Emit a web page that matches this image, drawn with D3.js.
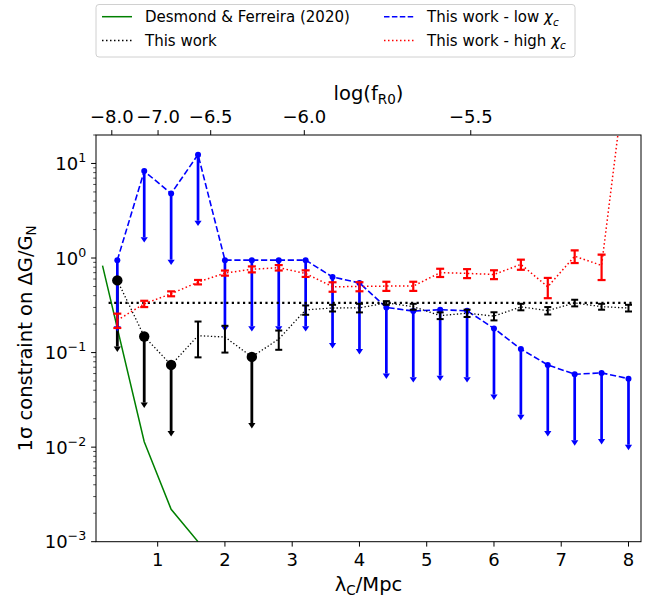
<!DOCTYPE html>
<html><head><meta charset="utf-8">
<script src="https://cdn.jsdelivr.net/npm/d3@7"></script>
<style>body{margin:0;background:#fff}svg{display:block}text{font-family:"DejaVu Sans",sans-serif}</style>
</head><body><svg id="c" width="651" height="604"></svg>
<script>
// ---------------- data ----------------
const lambdaC = [0.4,0.8,1.2,1.6,2.0,2.4,2.8,3.2,3.6,4.0,4.4,4.8,5.2,5.6,6.0,6.4,6.8,7.2,7.6,8.0];
// This work - low chi_c (upper limits)
const lowChi       = [0.95,8.3,4.8,12.4,0.95,0.95,0.95,0.95,0.63,0.545,0.30,0.275,0.284,0.277,0.18,0.109,0.074,0.059,0.061,0.053];
const lowChiLimEnd = [0.19,1.66,0.96,2.48,0.19,0.19,0.19,0.19,0.126,0.109,0.060,0.055,0.057,0.055,0.036,0.022,0.0148,0.0118,0.0122,0.0106];
// This work (combined): limits where thisWorkErr is null
const thisWork       = [0.58,0.148,0.074,0.151,0.146,0.09,0.139,0.283,0.296,0.297,0.335,0.306,0.246,0.261,0.243,0.304,0.278,0.335,0.306,0.296];
const thisWorkErr    = [null,null,null,0.062,0.046,null,0.032,0.032,0.024,0.031,0.015,0.022,0.02,0.023,0.024,0.024,0.025,0.027,0.022,0.024];
const thisWorkLimEnd = [0.116,0.0296,0.0148,null,null,0.018,null,null,null,null,null,null,null,null,null,null,null,null,null,null];
// This work - high chi_c
const highChi    = [0.22,0.328,0.419,0.556,0.694,0.76,0.79,0.686,0.497,0.5,0.505,0.505,0.70,0.688,0.67,0.856,0.496,1.045,0.835,160];
const highChiErr = [0.038,0.025,0.025,0.03,0.043,0.055,0.052,0.055,0.057,0.055,0.056,0.056,0.07,0.075,0.072,0.105,0.12,0.16,0.25,20];
// Desmond & Ferreira (2020)
const dfLambda = [0.18,0.8,1.2,1.6];
const dfValue  = [0.83,0.0114,0.0022,0.001];
// horizontal "This work" level
const levelValue = 0.335;
const levelRange = [0.27,8.05];
// ticks
const xTicks = [1,2,3,4,5,6,7,8];
const yExps = [-3,-2,-1,0,1];
const topTicks = [-8.0,-7.0,-6.5,-6.0,-5.5];
const lambdaFromLogF = f => 31.8*Math.sqrt(Math.pow(10,f+4));

// ---------------- layout ----------------
const L=96,R=641,T=135,B=541.7;
const svg=d3.select("#c");
const x=d3.scaleLinear().domain([0.083,8.186]).range([L,R]);
const y=d3.scaleLog().domain([1e-3,20]).range([B,T]);
const FS=18;

svg.append("defs").append("clipPath").attr("id","clip").append("rect")
  .attr("x",L).attr("y",T).attr("width",R-L).attr("height",B-T);
const g=svg.append("g").attr("clip-path","url(#clip)");

const line=d3.line().x(d=>x(d[0])).y(d=>y(d[1]));

// green
g.append("path").attr("d",line(dfLambda.map((l,i)=>[l,dfValue[i]])))
 .attr("fill","none").attr("stroke","#008000").attr("stroke-width",1.5);

function arrow(sel,xv,v,end,color,lw){
  sel.append("line").attr("x1",x(xv)).attr("x2",x(xv)).attr("y1",y(v)).attr("y2",y(end))
    .attr("stroke",color).attr("stroke-width",lw);
  const xb=x(xv), yb=y(end);
  sel.append("path").attr("d",`M${xb-3.6},${yb}L${xb+3.6},${yb}L${xb},${yb+5.4}Z`).attr("fill",color);
}
function ebar(sel,xv,v,e,color,lw,cw){
  const xc=x(xv), y1=y(v+e), y2=y(Math.max(v-e,1e-6));
  sel.append("line").attr("x1",xc).attr("x2",xc).attr("y1",y1).attr("y2",y2).attr("stroke",color).attr("stroke-width",lw);
  [y1,y2].forEach(yy=>sel.append("line").attr("x1",xc-cw/2).attr("x2",xc+cw/2).attr("y1",yy).attr("y2",yy)
    .attr("stroke",color).attr("stroke-width",lw));
}

// black limit arrows (under blue)
lambdaC.forEach((l,i)=>{ if(thisWorkErr[i]===null) arrow(g,l,thisWork[i],thisWorkLimEnd[i],"#000",2.8); });

// blue
g.append("path").attr("d",line(lambdaC.map((l,i)=>[l,lowChi[i]])))
 .attr("fill","none").attr("stroke","#0000ff").attr("stroke-width",1.6).attr("stroke-dasharray","6.2,2.7");
lambdaC.forEach((l,i)=>arrow(g,l,lowChi[i],lowChiLimEnd[i],"#0000ff",2.7));
g.selectAll(".bd").data(lambdaC).enter().append("circle")
 .attr("cx",d=>x(d)).attr("cy",(d,i)=>y(lowChi[i])).attr("r",3).attr("fill","#0000ff");

// black level line
g.append("line").attr("x1",x(levelRange[0])).attr("x2",x(levelRange[1]))
 .attr("y1",y(levelValue)).attr("y2",y(levelValue))
 .attr("stroke","#000").attr("stroke-width",2.2).attr("stroke-dasharray","2.2,3.4");

// black connecting dotted
g.append("path").attr("d",line(lambdaC.map((l,i)=>[l,thisWork[i]])))
 .attr("fill","none").attr("stroke","#000").attr("stroke-width",1.3).attr("stroke-dasharray","1.3,2.2");
lambdaC.forEach((l,i)=>{ if(thisWorkErr[i]!==null) ebar(g,l,thisWork[i],thisWorkErr[i],"#000",2,7); });
lambdaC.forEach((l,i)=>{ if(thisWorkErr[i]===null) g.append("circle").attr("cx",x(l)).attr("cy",y(thisWork[i])).attr("r",5.2).attr("fill","#000"); });

// red
g.append("path").attr("d",line(lambdaC.map((l,i)=>[l,highChi[i]])))
 .attr("fill","none").attr("stroke","#ff0000").attr("stroke-width",1.5).attr("stroke-dasharray","1.5,2.5");
lambdaC.forEach((l,i)=>ebar(g,l,highChi[i],highChiErr[i],"#ff0000",2.2,8));

// ---------------- axes ----------------
const ax=svg.append("g");
ax.append("rect").attr("x",L).attr("y",T).attr("width",R-L).attr("height",B-T)
  .attr("fill","none").attr("stroke","#000").attr("stroke-width",1);

// bottom ticks
xTicks.forEach(t=>{
  ax.append("line").attr("x1",x(t)).attr("x2",x(t)).attr("y1",B).attr("y2",B+4.9).attr("stroke","#000").attr("stroke-width",1);
  ax.append("text").attr("x",x(t)).attr("y",B+24).attr("text-anchor","middle").attr("font-size",FS).text(t);
});
// top ticks
topTicks.forEach(f=>{
  const xp=x(lambdaFromLogF(f));
  ax.append("line").attr("x1",xp).attr("x2",xp).attr("y1",T).attr("y2",T-4.9).attr("stroke","#000").attr("stroke-width",1);
  ax.append("text").attr("x",xp).attr("y",T-12.5).attr("text-anchor","middle").attr("font-size",FS)
    .text((f<0?"\u2212":"")+Math.abs(f).toFixed(1));
});
// y major
yExps.forEach(e=>{
  const yp=y(Math.pow(10,e));
  ax.append("line").attr("x1",L).attr("x2",L-4.9).attr("y1",yp).attr("y2",yp).attr("stroke","#000").attr("stroke-width",1);
  const t=ax.append("text").attr("x",L-9.8).attr("y",yp+6.5).attr("text-anchor","end").attr("font-size",FS);
  t.append("tspan").text("10");
  t.append("tspan").attr("dy",-8).attr("font-size",12.6).text((e<0?"\u2212":"")+Math.abs(e));
});
// y minor
yExps.forEach(e=>{
  for(let m=2;m<=9;m++){
    const v=m*Math.pow(10,e);
    if(v>20.0001) continue;
    const yp=y(v);
    ax.append("line").attr("x1",L).attr("x2",L-2.8).attr("y1",yp).attr("y2",yp).attr("stroke","#000").attr("stroke-width",0.7);
  }
});

// axis labels
const xl=ax.append("text").attr("x",(L+R)/2).attr("y",591).attr("text-anchor","middle").attr("font-size",19.5);
xl.append("tspan").text("\u03bb");
xl.append("tspan").attr("dy",4).attr("font-size",13.5).text("C");
xl.append("tspan").attr("dy",-4).text("/Mpc");

const tl=ax.append("text").attr("x",(L+R)/2).attr("y",100).attr("text-anchor","middle").attr("font-size",19.5);
tl.append("tspan").text("log(f");
tl.append("tspan").attr("dy",4).attr("font-size",13.5).text("R0");
tl.append("tspan").attr("dy",-4).text(")");

const yl=ax.append("text").attr("transform",`translate(32,${(T+B)/2}) rotate(-90)`).attr("text-anchor","middle").attr("font-size",19.5);
yl.append("tspan").text("1\u03c3 constraint on \u0394G/G");
yl.append("tspan").attr("dy",4).attr("font-size",13.5).text("N");

// ---------------- legend ----------------
const lg=svg.append("g");
lg.append("rect").attr("x",96).attr("y",4.5).attr("width",479).attr("height",52.5).attr("rx",3)
  .attr("fill","#fff").attr("stroke","#d0d0d0").attr("stroke-width",1);
const legendItems=[
  {label:"Desmond & Ferreira (2020)",color:"#008000",dash:null,w:1.5,hx:102,tx:145,y:16.7},
  {label:"This work",color:"#000",dash:"1.5,2.5",w:1.5,hx:102,tx:145,y:40.5},
  {label:"This work - low ",sub:true,color:"#0000ff",dash:"5.5,2.4",w:1.5,hx:384,tx:427,y:16.7},
  {label:"This work - high ",sub:true,color:"#ff0000",dash:"1.5,2.5",w:1.5,hx:384,tx:427,y:40.5}
];
legendItems.forEach(it=>{
  const l=lg.append("line").attr("x1",it.hx).attr("x2",it.hx+30).attr("y1",it.y).attr("y2",it.y)
    .attr("stroke",it.color).attr("stroke-width",it.w);
  if(it.dash) l.attr("stroke-dasharray",it.dash);
  const t=lg.append("text").attr("x",it.tx).attr("y",it.y+5.3).attr("font-size",15);
  t.append("tspan").text(it.label);
  if(it.sub){
    t.append("tspan").attr("font-style","italic").text("\u03c7");
    t.append("tspan").attr("font-style","italic").attr("dy",3.5).attr("font-size",10.5).text("c");
  }
});
</script></body></html>
